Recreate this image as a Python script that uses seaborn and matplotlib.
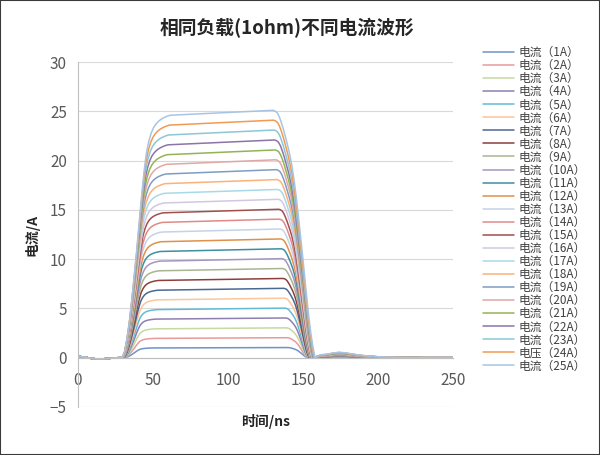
import pandas as pd
import matplotlib
matplotlib.use("Agg")
import matplotlib.pyplot as plt
from matplotlib.patches import Rectangle
import seaborn as sns

# legend labels (the 24th really says 电压 in the original)
series_labels = ['电流（%dA）' % n for n in range(1, 24)] + ['电压（24A）', '电流（25A）']

colors = ['#6f93c8', '#e89a9a', '#c5d9a0', '#8d7fb0', '#62bcd6', '#fcc59a',
          '#4a6894', '#8c3f3c', '#a8b590', '#a596bd', '#3f8ea0', '#e0904a',
          '#c3d3e8', '#e08a88', '#a24f4c', '#d2c7e3', '#a9d9e8', '#fbb27a',
          '#7e9cc4', '#dfa8a6', '#93b453', '#8b74a8', '#8cc7d6', '#f29a52',
          '#a8c4e4']

level_start = [0.99, 1.96, 2.93, 3.92, 4.88, 5.87, 6.85, 7.84, 8.82, 9.80, 10.78, 11.77,
               12.75, 13.73, 14.70, 15.70, 16.68, 17.66, 18.64, 19.62, 20.60, 21.60,
               22.60, 23.60, 24.60]
level_end = [1.03, 2.03, 3.03, 4.03, 5.03, 6.04, 7.04, 8.04, 9.05, 10.05, 11.05, 12.05,
             13.06, 14.06, 15.06, 16.07, 17.07, 18.07, 19.08, 20.08, 21.08, 22.09,
             23.10, 24.10, 25.10]

# edge timings (ns)
rise_start_ns = [31, 30.9, 30.8, 30.7, 30.6, 30.5, 30.4, 30.3, 30.2, 30.1, 30, 30, 29.9,
                 29.9, 29.8, 29.8, 29.7, 29.7, 29.6, 29.6, 29.6, 29.5, 29.5, 29.5, 29.5]
rise_ns = [20, 20.5, 21, 21.5, 22, 22.5, 23, 23.5, 24, 24.5, 25, 25.5, 26, 26.5, 27, 27.5,
           28, 28.5, 29, 29.5, 30, 30.5, 31, 31.5, 32]
fall_start_ns = [139.5, 139, 138.6, 138.2, 137.8, 137.4, 137, 136.6, 136.2, 135.8, 135.4,
                 135, 134.6, 134.2, 133.8, 133.4, 133, 132.6, 132.2, 131.8, 131.4, 131,
                 130.6, 130.3, 130]
fall_ns = [13.5, 14, 14.6, 15.2, 15.8, 16.4, 17, 17.6, 18.2, 18.8, 19.4, 20, 20.6, 21.2,
           21.8, 22.4, 23, 23.6, 24.2, 24.8, 25.4, 26, 26.6, 27.3, 28]

# baseline before the pulse (same for all)
base_t = [0, 4, 8, 12, 16, 20, 24, 27]
base_v = [0.12, 0.08, -0.05, -0.12, -0.12, -0.08, -0.02, 0.0]

# edge shapes, normalised
rise_u = [0, .05, .1, .15, .2, .25, .3, .35, .4, .45, .5, .55, .6, .65, .7, .75, .8, .85,
          .9, .95, 1]
rise_s = [0, .025, .08, .15, .24, .34, .44, .55, .66, .76, .84, .89, .925, .948, .963,
          .974, .982, .988, .993, .997, 1]
fall_u = [0, .05, .1, .15, .2, .25, .3, .35, .4, .45, .5, .55, .6, .65, .7, .75, .8, .85,
          .9, .95, 1]
fall_s = [1, .997, .99, .974, .95, .922, .89, .857, .82, .775, .72, .655, .58, .50, .42,
          .335, .25, .17, .10, .045, 0]

# ringing after the pulse, as seen on the 25A trace
tail_t = [162, 166, 170, 174, 178, 184, 190, 200, 215, 230, 250]
tail_v = [0.30, 0.35, 0.48, 0.55, 0.50, 0.35, 0.22, 0.10, 0.03, 0.0, 0.0]

rows = []
for i, lab in enumerate(series_labels):
    t = list(base_t)
    v = list(base_v)
    t += [rise_start_ns[i] + u * rise_ns[i] for u in rise_u]
    v += [level_start[i] * s for s in rise_s]
    t += [fall_start_ns[i] + u * fall_ns[i] for u in fall_u]
    v += [level_end[i] * s for s in fall_s]
    t += tail_t
    v += [x * level_end[i] / level_end[-1] for x in tail_v]
    for a, b in zip(t, v):
        rows.append((lab, a, b))
df = pd.DataFrame(rows, columns=['series', 'time', 'current'])

sns.set_style('white')
plt.rcParams['font.family'] = ['Noto Sans CJK SC', 'DejaVu Sans']

fig = plt.figure(figsize=(6, 4.55), dpi=100)
ax = fig.add_axes([0.13, 0.1055, 0.625, 0.7582])

sns.lineplot(data=df, x='time', y='current', hue='series', hue_order=series_labels,
             palette=colors, estimator=None, sort=False, lw=1.1, ax=ax)

ax.set_xlim(0, 250)
ax.set_ylim(-5, 30)
ax.set_xticks(range(0, 251, 50))
ax.set_yticks(range(-5, 31, 5))
ax.grid(axis='y', color='#d9d9d9', lw=0.8)
ax.set_axisbelow(True)
for s in ['top', 'right']:
    ax.spines[s].set_visible(False)
ax.spines['bottom'].set_position(('data', 0))
ax.spines['bottom'].set_color('#bfbfbf')
ax.spines['left'].set_color('#bfbfbf')
ax.tick_params(labelsize=11, colors='#595959', length=0)
ax.tick_params(axis='y', pad=8)
ax.tick_params(axis='x', pad=10)

ax.set_xlabel('时间/ns', fontsize=10, fontweight='bold', color='#262626')
ax.set_ylabel('电流/A', fontsize=10, fontweight='bold', color='#262626')
ax.xaxis.set_label_coords(0.5, -0.02)
ax.yaxis.set_label_coords(-0.104, 0.5)

fig.text(0.479, 0.938, '相同负载(1ohm)不同电流波形', ha='center', va='center',
         fontsize=13.5, fontweight='bold', color='#262626')

sns.move_legend(ax, 'upper left', bbox_to_anchor=(0.787, 0.922),
                bbox_transform=fig.transFigure, frameon=False, title=None,
                fontsize=8.5, handlelength=2.6, handletextpad=0.4, labelspacing=0.005)
for t in ax.get_legend().get_texts():
    t.set_color('#404040')

fig.add_artist(Rectangle((0, 0), 1, 1, transform=fig.transFigure, fill=False,
                         edgecolor='#3a3a3a', lw=1.5))

fig.savefig('out.png', dpi=100)
